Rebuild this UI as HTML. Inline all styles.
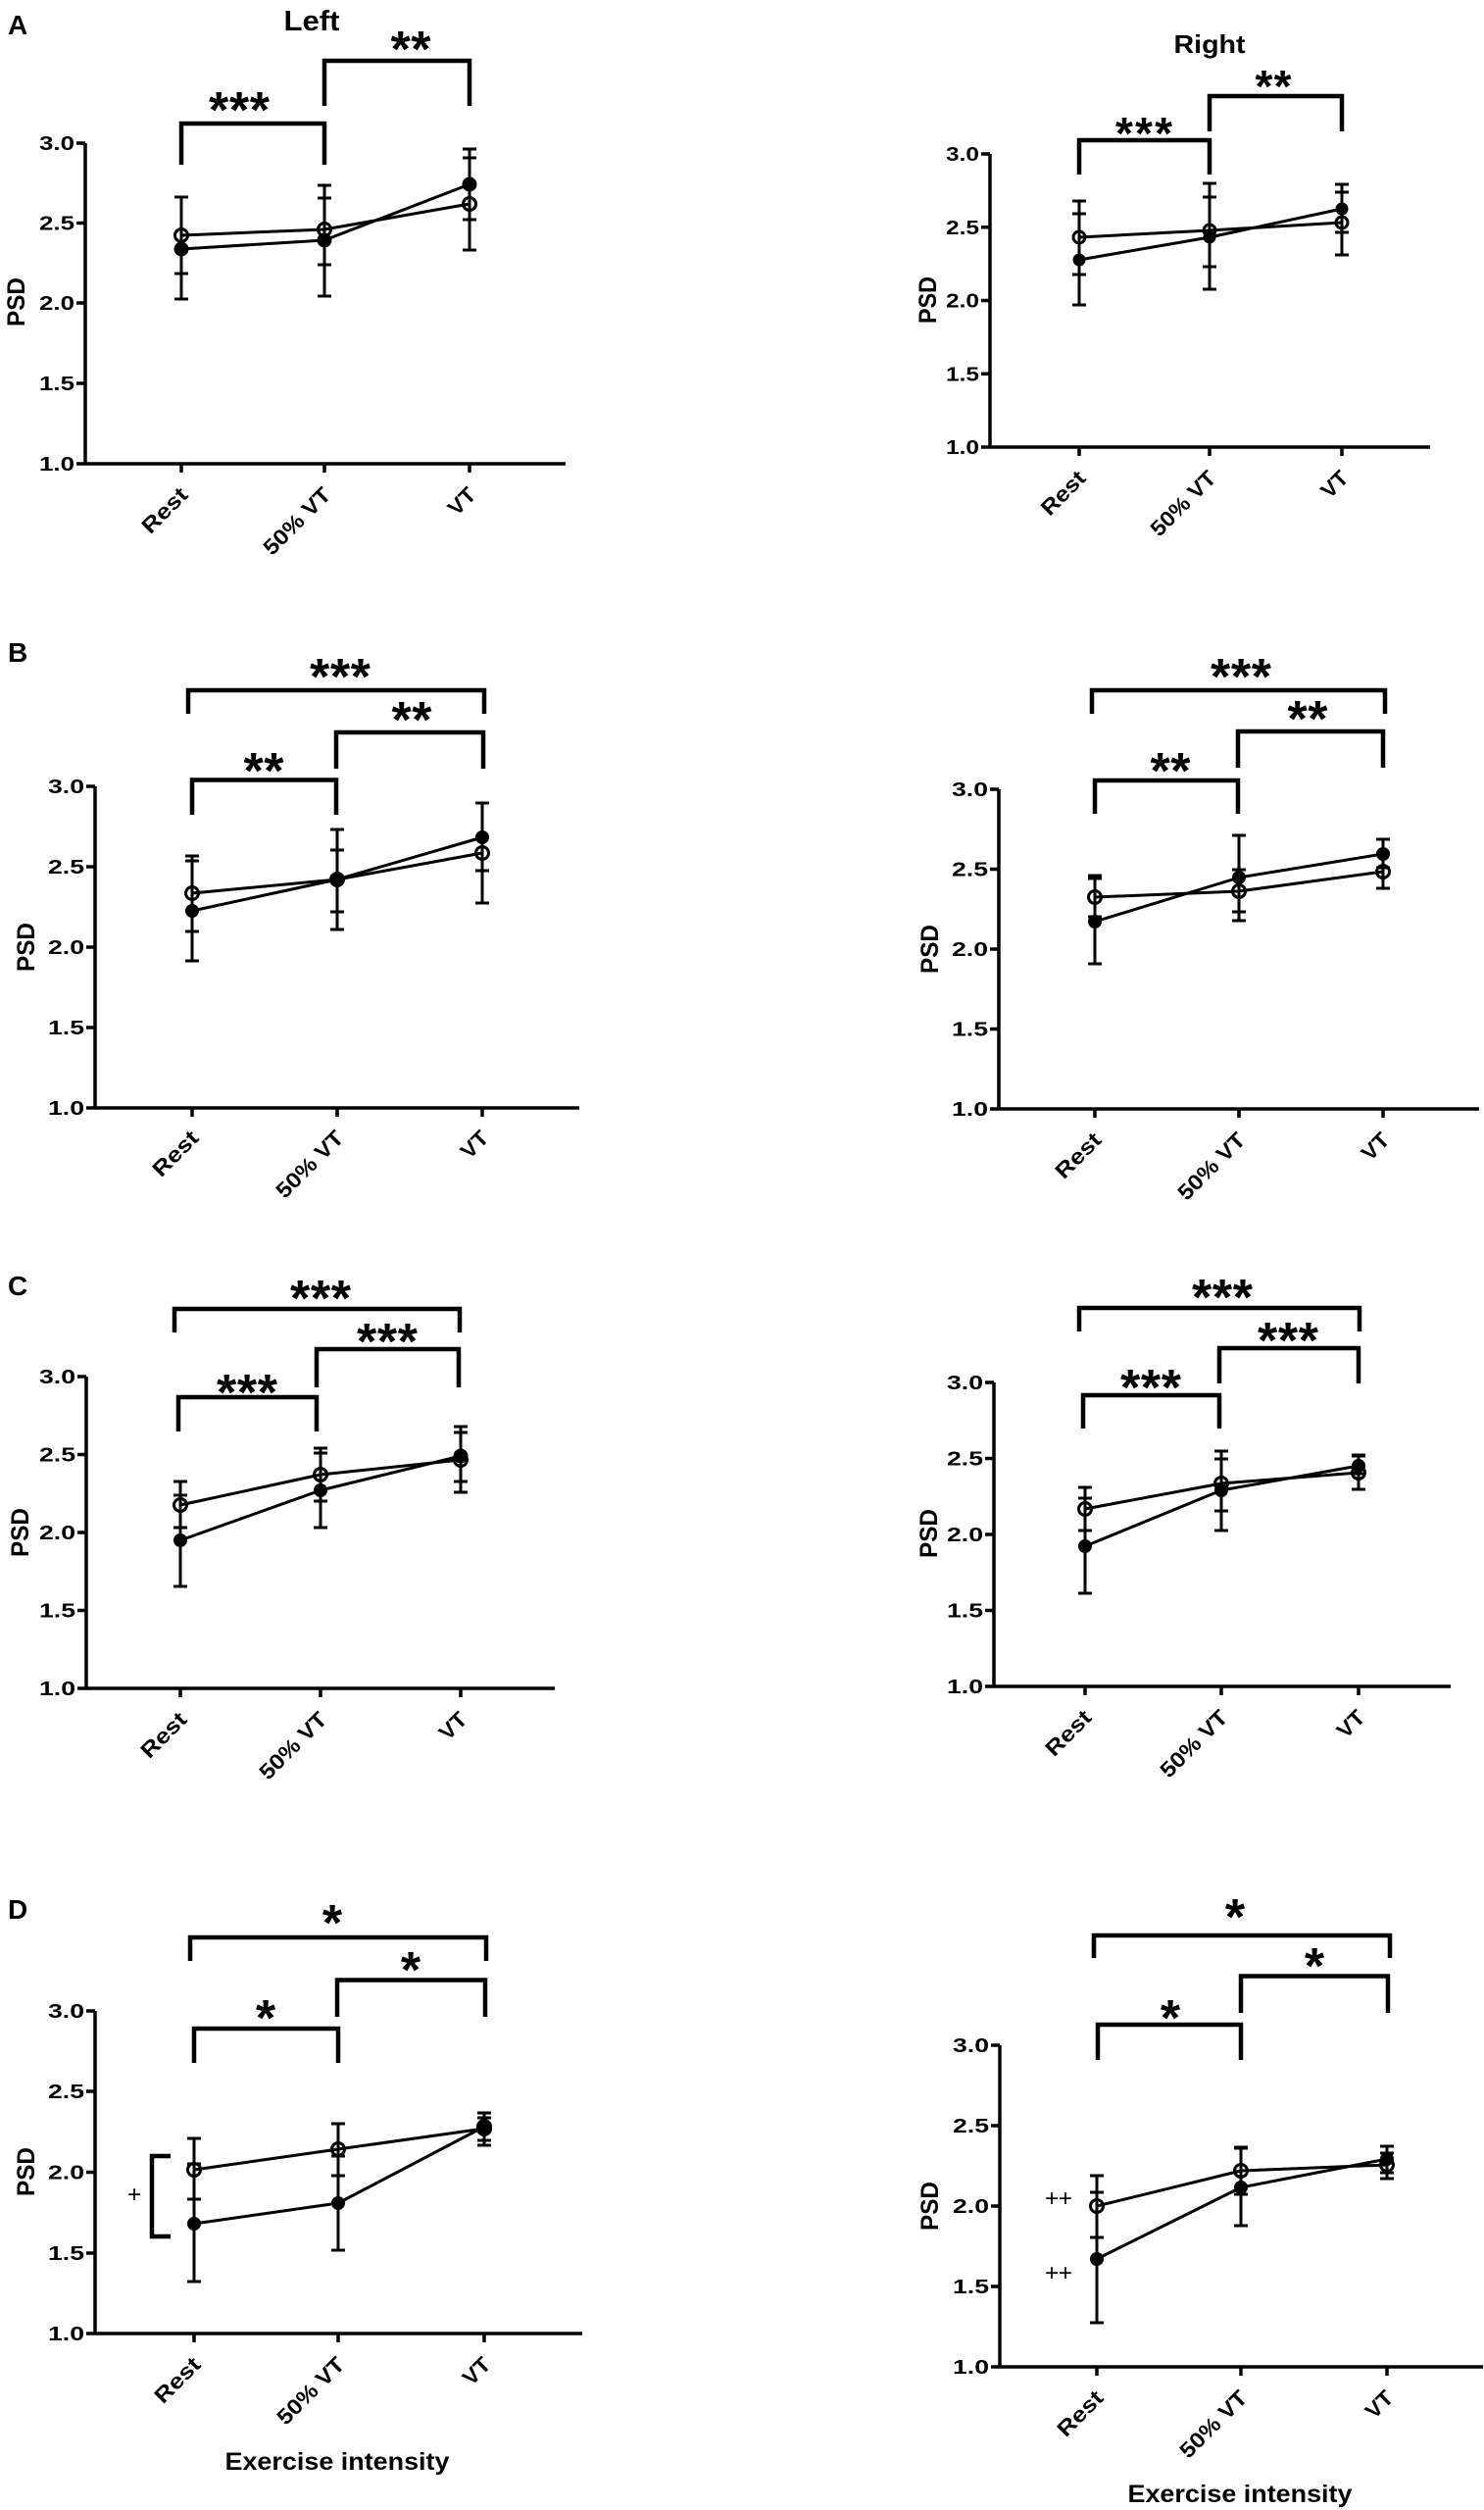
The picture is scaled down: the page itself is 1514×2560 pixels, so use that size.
<!DOCTYPE html>
<html><head><meta charset="utf-8"><style>
html,body{margin:0;padding:0;background:#fff;}
svg{display:block;}
text{font-family:"Liberation Sans",Arial,sans-serif;font-weight:bold;fill:#000;}
.ax{stroke:#000;stroke-width:3.5;fill:none;}
.br{stroke:#000;stroke-width:4.5;fill:none;}
.eb{stroke:#000;stroke-width:3;fill:none;}
.ln{stroke:#000;stroke-width:3;fill:none;stroke-linejoin:round;}
.op{stroke:#000;stroke-width:3;fill:none;}
.tl{font-size:20px;text-anchor:end;}
.xl{font-size:22px;text-anchor:end;}
.st{font-size:52px;text-anchor:middle;}
.st2{font-size:46px;text-anchor:middle;}
.yt{font-size:25px;text-anchor:middle;}
.pl{font-size:28px;}
.pm{font-weight:normal;font-size:24px;text-anchor:middle;}
</style></head><body>
<svg width="1514" height="2560" viewBox="0 0 1514 2560" xmlns="http://www.w3.org/2000/svg">
<rect width="1514" height="2560" fill="#fff"/>

<!-- ================= A LEFT ================= -->
<text class="pl" x="8" y="35">A</text>
<text x="318" y="31" font-size="29" text-anchor="middle" textLength="57" lengthAdjust="spacingAndGlyphs">Left</text>
<path class="ax" d="M87,146V473H577M78,146H87M78,227.5H87M78,309H87M78,391H87M78,473H87M185,473V482M331,473V482M479,473V482"/>
<text class="tl" x="76" y="153" textLength="36" lengthAdjust="spacingAndGlyphs">3.0</text>
<text class="tl" x="76" y="234.5" textLength="36" lengthAdjust="spacingAndGlyphs">2.5</text>
<text class="tl" x="76" y="316" textLength="36" lengthAdjust="spacingAndGlyphs">2.0</text>
<text class="tl" x="76" y="398" textLength="36" lengthAdjust="spacingAndGlyphs">1.5</text>
<text class="tl" x="76" y="480" textLength="36" lengthAdjust="spacingAndGlyphs">1.0</text>
<text class="xl" x="193" y="506" transform="rotate(-45 193 506)" textLength="56" lengthAdjust="spacingAndGlyphs">Rest</text>
<text class="xl" x="339" y="506" transform="rotate(-45 339 506)" textLength="87" lengthAdjust="spacingAndGlyphs">50% VT</text>
<text class="xl" x="487" y="506" transform="rotate(-45 487 506)" textLength="30" lengthAdjust="spacingAndGlyphs">VT</text>
<text class="yt" x="25" y="308" transform="rotate(-90 25 308)" textLength="50" lengthAdjust="spacingAndGlyphs">PSD</text>
<path class="br" d="M185,168V126H331V168M331,108V62H479V108"/>
<text class="st" x="244" y="130" textLength="62">***</text>
<text class="st" x="419" y="68" textLength="41">**</text>
<path class="eb" d="M185,201V279M178,201H192M178,279H192M331,202V270M324,202H338M324,270H338M479,161V255M472,161H486M472,255H486"/>
<path class="eb" d="M185,201V305M178,305H192M331,189V302M324,189H338M324,302H338M479,152V224M472,152H486M472,224H486"/>
<polyline class="ln" stroke-width="3.5" points="185,240 331,234 479,208"/>
<polyline class="ln" stroke-width="3.5" points="185,254 331,245 479,188"/>
<circle cx="185" cy="254" r="7.5"/><circle cx="331" cy="245" r="7.5"/><circle cx="479" cy="188" r="7.5"/>
<circle class="op" cx="185" cy="240" r="6.5"/><circle class="op" cx="331" cy="234" r="6.5"/><circle class="op" cx="479" cy="208" r="6.5"/>

<!-- ================= A RIGHT ================= -->
<text x="1234" y="54" font-size="26" text-anchor="middle" textLength="73" lengthAdjust="spacingAndGlyphs">Right</text>
<path class="ax" d="M1010,157V456H1459M1001,157H1010M1001,231.75H1010M1001,306.5H1010M1001,381.25H1010M1001,456H1010M1101,456V465M1234,456V465M1369,456V465"/>
<text class="tl" x="999" y="164" textLength="34" lengthAdjust="spacingAndGlyphs">3.0</text>
<text class="tl" x="999" y="238.75" textLength="34" lengthAdjust="spacingAndGlyphs">2.5</text>
<text class="tl" x="999" y="313.5" textLength="34" lengthAdjust="spacingAndGlyphs">2.0</text>
<text class="tl" x="999" y="388.25" textLength="34" lengthAdjust="spacingAndGlyphs">1.5</text>
<text class="tl" x="999" y="463" textLength="34" lengthAdjust="spacingAndGlyphs">1.0</text>
<text class="xl" x="1109" y="489" transform="rotate(-45 1109 489)" textLength="54" lengthAdjust="spacingAndGlyphs">Rest</text>
<text class="xl" x="1242" y="489" transform="rotate(-45 1242 489)" textLength="84" lengthAdjust="spacingAndGlyphs">50% VT</text>
<text class="xl" x="1377" y="489" transform="rotate(-45 1377 489)" textLength="29" lengthAdjust="spacingAndGlyphs">VT</text>
<text class="yt" x="955" y="306" transform="rotate(-90 955 306)" textLength="48" lengthAdjust="spacingAndGlyphs">PSD</text>
<path class="br" d="M1101,178V143H1234V178M1234,134V98H1369V134"/>
<text class="st2" x="1167" y="152" textLength="58">***</text>
<text class="st2" x="1299" y="104" textLength="37">**</text>
<path class="eb" d="M1101,205V280M1094,205H1108M1094,280H1108M1234,201V272M1227,201H1241M1227,272H1241M1369,196V260M1362,196H1376M1362,260H1376"/>
<path class="eb" d="M1101,218V311M1094,218H1108M1094,311H1108M1234,187V295M1227,187H1241M1227,295H1241M1369,188V237M1362,188H1376M1362,237H1376"/>
<polyline class="ln" points="1101,242 1234,235 1369,227"/>
<polyline class="ln" points="1101,265 1234,242 1369,213"/>
<circle cx="1101" cy="265" r="6.5"/><circle cx="1234" cy="242" r="6.5"/><circle cx="1369" cy="213" r="6.5"/>
<circle class="op" cx="1101" cy="242" r="6"/><circle class="op" cx="1234" cy="235" r="6"/><circle class="op" cx="1369" cy="227" r="6"/>

<!-- ================= B LEFT ================= -->
<text class="pl" x="8" y="675">B</text>
<path class="ax" d="M97,802V1130H591M88,802H97M88,884H97M88,966H97M88,1048H97M88,1130H97M196,1130V1139M344,1130V1139M492,1130V1139"/>
<text class="tl" x="86" y="809" textLength="37" lengthAdjust="spacingAndGlyphs">3.0</text>
<text class="tl" x="86" y="891" textLength="37" lengthAdjust="spacingAndGlyphs">2.5</text>
<text class="tl" x="86" y="973" textLength="37" lengthAdjust="spacingAndGlyphs">2.0</text>
<text class="tl" x="86" y="1055" textLength="37" lengthAdjust="spacingAndGlyphs">1.5</text>
<text class="tl" x="86" y="1137" textLength="37" lengthAdjust="spacingAndGlyphs">1.0</text>
<text class="xl" x="204" y="1162" transform="rotate(-45 204 1162)" textLength="56" lengthAdjust="spacingAndGlyphs">Rest</text>
<text class="xl" x="352" y="1162" transform="rotate(-45 352 1162)" textLength="87" lengthAdjust="spacingAndGlyphs">50% VT</text>
<text class="xl" x="500" y="1162" transform="rotate(-45 500 1162)" textLength="30" lengthAdjust="spacingAndGlyphs">VT</text>
<text class="yt" x="35" y="966" transform="rotate(-90 35 966)" textLength="50" lengthAdjust="spacingAndGlyphs">PSD</text>
<path class="br" d="M192,728V704H494V728M343,784V747H493V784M196,831V795.5H343V831"/>
<text class="st" x="347" y="708" textLength="62">***</text>
<text class="st" x="420" y="752" textLength="41">**</text>
<text class="st" x="269" y="804" textLength="41">**</text>
<path class="eb" d="M196,873V950M189,873H203M189,950H203M344,867V930M337,867H351M337,930H351M492,819V921M485,819H499M485,921H499"/>
<path class="eb" d="M196,878V980M189,878H203M189,980H203M344,846V948M337,846H351M337,948H351M492,819V888M485,888H499"/>
<polyline class="ln" points="196,911 344,897 492,870"/>
<polyline class="ln" points="196,929 344,897 492,854"/>
<circle cx="196" cy="929" r="7"/><circle cx="344" cy="897" r="7.5"/><circle cx="492" cy="854" r="7"/>
<circle class="op" cx="196" cy="911" r="6.5"/><circle class="op" cx="344" cy="897" r="6.5"/><circle class="op" cx="492" cy="870" r="6.5"/>

<!-- ================= B RIGHT ================= -->
<path class="ax" d="M1019,805V1131H1509M1010,805H1019M1010,886.5H1019M1010,968H1019M1010,1049.5H1019M1010,1131H1019M1117,1131V1140M1264,1131V1140M1411,1131V1140"/>
<text class="tl" x="1008" y="812" textLength="37" lengthAdjust="spacingAndGlyphs">3.0</text>
<text class="tl" x="1008" y="893.5" textLength="37" lengthAdjust="spacingAndGlyphs">2.5</text>
<text class="tl" x="1008" y="975" textLength="37" lengthAdjust="spacingAndGlyphs">2.0</text>
<text class="tl" x="1008" y="1056.5" textLength="37" lengthAdjust="spacingAndGlyphs">1.5</text>
<text class="tl" x="1008" y="1138" textLength="37" lengthAdjust="spacingAndGlyphs">1.0</text>
<text class="xl" x="1125" y="1164" transform="rotate(-45 1125 1164)" textLength="56" lengthAdjust="spacingAndGlyphs">Rest</text>
<text class="xl" x="1272" y="1164" transform="rotate(-45 1272 1164)" textLength="87" lengthAdjust="spacingAndGlyphs">50% VT</text>
<text class="xl" x="1419" y="1164" transform="rotate(-45 1419 1164)" textLength="30" lengthAdjust="spacingAndGlyphs">VT</text>
<text class="yt" x="957" y="968" transform="rotate(-90 957 968)" textLength="50" lengthAdjust="spacingAndGlyphs">PSD</text>
<path class="br" d="M1114,728V704H1413V728M1263,783V746H1411V783M1117,830V796H1263V830"/>
<text class="st" x="1266" y="708" textLength="62">***</text>
<text class="st" x="1334" y="751" textLength="41">**</text>
<text class="st" x="1194" y="804" textLength="41">**</text>
<path class="eb" d="M1117,893V935M1110,893H1124M1110,935H1124M1264,887V930M1257,887H1271M1257,930H1271M1411,870V906M1404,870H1418M1404,906H1418"/>
<path class="eb" d="M1117,896V983M1110,896H1124M1110,983H1124M1264,852V939M1257,852H1271M1257,939H1271M1411,856V885M1404,856H1418M1404,885H1418"/>
<polyline class="ln" points="1117,915 1264,909 1411,889"/>
<polyline class="ln" points="1117,940 1264,895 1411,871"/>
<circle cx="1117" cy="940" r="7"/><circle cx="1264" cy="895" r="7"/><circle cx="1411" cy="871" r="7"/>
<circle class="op" cx="1117" cy="915" r="6.5"/><circle class="op" cx="1264" cy="909" r="6.5"/><circle class="op" cx="1411" cy="889" r="6.5"/>

<!-- ================= C LEFT ================= -->
<text class="pl" x="8" y="1321">C</text>
<path class="ax" d="M88,1404V1722H566M79,1404H88M79,1483.5H88M79,1563H88M79,1642.5H88M79,1722H88M184,1722V1731M327,1722V1731M470,1722V1731"/>
<text class="tl" x="77" y="1411" textLength="37" lengthAdjust="spacingAndGlyphs">3.0</text>
<text class="tl" x="77" y="1490.5" textLength="37" lengthAdjust="spacingAndGlyphs">2.5</text>
<text class="tl" x="77" y="1570" textLength="37" lengthAdjust="spacingAndGlyphs">2.0</text>
<text class="tl" x="77" y="1649.5" textLength="37" lengthAdjust="spacingAndGlyphs">1.5</text>
<text class="tl" x="77" y="1729" textLength="37" lengthAdjust="spacingAndGlyphs">1.0</text>
<text class="xl" x="192" y="1755" transform="rotate(-45 192 1755)" textLength="56" lengthAdjust="spacingAndGlyphs">Rest</text>
<text class="xl" x="335" y="1755" transform="rotate(-45 335 1755)" textLength="87" lengthAdjust="spacingAndGlyphs">50% VT</text>
<text class="xl" x="478" y="1755" transform="rotate(-45 478 1755)" textLength="30" lengthAdjust="spacingAndGlyphs">VT</text>
<text class="yt" x="29" y="1563" transform="rotate(-90 29 1563)" textLength="50" lengthAdjust="spacingAndGlyphs">PSD</text>
<path class="br" d="M178,1359V1335H469V1359M323,1415V1376H468V1415M182,1460V1425H323V1460"/>
<text class="st" x="327" y="1342" textLength="62">***</text>
<text class="st" x="395" y="1386" textLength="62">***</text>
<text class="st" x="252" y="1438" textLength="62">***</text>
<path class="eb" d="M184,1511V1558M177,1511H191M177,1558H191M327,1482V1531M320,1482H334M320,1531H334M470,1455V1522M463,1455H477M463,1522H477"/>
<path class="eb" d="M184,1525V1618M177,1525H191M177,1618H191M327,1477V1558M320,1477H334M320,1558H334M470,1461V1511M463,1461H477M463,1511H477"/>
<polyline class="ln" points="184,1535 327,1504 470,1489"/>
<polyline class="ln" points="184,1571 327,1520 470,1485"/>
<circle cx="184" cy="1571" r="7"/><circle cx="327" cy="1520" r="7"/><circle cx="470" cy="1485" r="7.5"/>
<circle class="op" cx="184" cy="1535" r="6.5"/><circle class="op" cx="327" cy="1504" r="6.5"/><circle class="op" cx="470" cy="1489" r="6.5"/>

<!-- ================= C RIGHT ================= -->
<path class="ax" d="M1014,1410V1720H1480M1005,1410H1014M1005,1487.5H1014M1005,1565H1014M1005,1642.5H1014M1005,1720H1014M1107,1720V1729M1246,1720V1729M1386,1720V1729"/>
<text class="tl" x="1003" y="1417" textLength="37" lengthAdjust="spacingAndGlyphs">3.0</text>
<text class="tl" x="1003" y="1494.5" textLength="37" lengthAdjust="spacingAndGlyphs">2.5</text>
<text class="tl" x="1003" y="1572" textLength="37" lengthAdjust="spacingAndGlyphs">2.0</text>
<text class="tl" x="1003" y="1649.5" textLength="37" lengthAdjust="spacingAndGlyphs">1.5</text>
<text class="tl" x="1003" y="1727" textLength="37" lengthAdjust="spacingAndGlyphs">1.0</text>
<text class="xl" x="1115" y="1753" transform="rotate(-45 1115 1753)" textLength="56" lengthAdjust="spacingAndGlyphs">Rest</text>
<text class="xl" x="1254" y="1753" transform="rotate(-45 1254 1753)" textLength="87" lengthAdjust="spacingAndGlyphs">50% VT</text>
<text class="xl" x="1394" y="1753" transform="rotate(-45 1394 1753)" textLength="30" lengthAdjust="spacingAndGlyphs">VT</text>
<text class="yt" x="956" y="1564" transform="rotate(-90 956 1564)" textLength="50" lengthAdjust="spacingAndGlyphs">PSD</text>
<path class="br" d="M1101,1358V1334H1387V1358M1244,1411V1375H1386V1411M1105,1457V1423H1244V1457"/>
<text class="st" x="1247" y="1341" textLength="62">***</text>
<text class="st" x="1314" y="1385" textLength="62">***</text>
<text class="st" x="1174" y="1433" textLength="62">***</text>
<path class="eb" d="M1107,1517V1561M1100,1517H1114M1100,1561H1114M1246,1488V1541M1239,1488H1253M1239,1541H1253M1386,1485V1519M1379,1485H1393M1379,1519H1393"/>
<path class="eb" d="M1107,1528V1625M1100,1528H1114M1100,1625H1114M1246,1480V1561M1239,1480H1253M1239,1561H1253M1386,1484V1503M1379,1484H1393M1379,1503H1393"/>
<polyline class="ln" points="1107,1539 1246,1513 1386,1502"/>
<polyline class="ln" points="1107,1577 1246,1520 1386,1495"/>
<circle cx="1107" cy="1577" r="7"/><circle cx="1246" cy="1520" r="7"/><circle cx="1386" cy="1495" r="7"/>
<circle class="op" cx="1107" cy="1539" r="6.5"/><circle class="op" cx="1246" cy="1513" r="6.5"/><circle class="op" cx="1386" cy="1502" r="6.5"/>

<!-- ================= D LEFT ================= -->
<text class="pl" x="8" y="1957">D</text>
<path class="ax" d="M97,2051V2380H594M88,2051H97M88,2133H97M88,2215.5H97M88,2298H97M88,2380H97M198,2380V2389M345,2380V2389M494,2380V2389"/>
<text class="tl" x="86" y="2058" textLength="37" lengthAdjust="spacingAndGlyphs">3.0</text>
<text class="tl" x="86" y="2140" textLength="37" lengthAdjust="spacingAndGlyphs">2.5</text>
<text class="tl" x="86" y="2222.5" textLength="37" lengthAdjust="spacingAndGlyphs">2.0</text>
<text class="tl" x="86" y="2305" textLength="37" lengthAdjust="spacingAndGlyphs">1.5</text>
<text class="tl" x="86" y="2387" textLength="37" lengthAdjust="spacingAndGlyphs">1.0</text>
<text class="xl" x="206" y="2413" transform="rotate(-45 206 2413)" textLength="56" lengthAdjust="spacingAndGlyphs">Rest</text>
<text class="xl" x="353" y="2413" transform="rotate(-45 353 2413)" textLength="87" lengthAdjust="spacingAndGlyphs">50% VT</text>
<text class="xl" x="502" y="2413" transform="rotate(-45 502 2413)" textLength="30" lengthAdjust="spacingAndGlyphs">VT</text>
<text class="yt" x="35" y="2215" transform="rotate(-90 35 2215)" textLength="50" lengthAdjust="spacingAndGlyphs">PSD</text>
<text x="344" y="2519" font-size="25" text-anchor="middle" textLength="229" lengthAdjust="spacingAndGlyphs">Exercise intensity</text>
<path class="br" d="M194,2000V1976H496V2000M344,2057V2019.5H495V2057M198,2104V2069H345V2104"/>
<text class="st" x="339" y="1979">*</text>
<text class="st" x="419" y="2027">*</text>
<text class="st" x="271" y="2076">*</text>
<path class="br" stroke-width="4" d="M174,2199H155V2281H174"/>
<text class="pm" x="137" y="2246">+</text>
<path class="eb" d="M198,2181V2243M191,2181H205M191,2243H205M345,2166V2219M338,2166H352M338,2219H352M494,2160V2183M487,2160H501M487,2183H501"/>
<path class="eb" d="M198,2207V2327M191,2207H205M191,2327H205M345,2199V2295M338,2199H352M338,2295H352M494,2155V2188M487,2155H501M487,2188H501"/>
<polyline class="ln" points="198,2213 345,2192 494,2171"/>
<polyline class="ln" points="198,2268 345,2247 494,2169"/>
<circle cx="198" cy="2268" r="7"/><circle cx="345" cy="2247" r="7"/><circle cx="494" cy="2169" r="8"/>
<circle class="op" cx="198" cy="2213" r="6.5"/><circle class="op" cx="345" cy="2192" r="6.5"/><circle class="op" cx="494" cy="2171" r="6.5"/>

<!-- ================= D RIGHT ================= -->
<path class="ax" d="M1020,2086V2414H1513M1011,2086H1020M1011,2168H1020M1011,2250H1020M1011,2332H1020M1011,2414H1020M1119,2414V2423M1266,2414V2423M1415,2414V2423"/>
<text class="tl" x="1009" y="2093" textLength="37" lengthAdjust="spacingAndGlyphs">3.0</text>
<text class="tl" x="1009" y="2175" textLength="37" lengthAdjust="spacingAndGlyphs">2.5</text>
<text class="tl" x="1009" y="2257" textLength="37" lengthAdjust="spacingAndGlyphs">2.0</text>
<text class="tl" x="1009" y="2339" textLength="37" lengthAdjust="spacingAndGlyphs">1.5</text>
<text class="tl" x="1009" y="2421" textLength="37" lengthAdjust="spacingAndGlyphs">1.0</text>
<text class="xl" x="1127" y="2447" transform="rotate(-45 1127 2447)" textLength="56" lengthAdjust="spacingAndGlyphs">Rest</text>
<text class="xl" x="1274" y="2447" transform="rotate(-45 1274 2447)" textLength="87" lengthAdjust="spacingAndGlyphs">50% VT</text>
<text class="xl" x="1423" y="2447" transform="rotate(-45 1423 2447)" textLength="30" lengthAdjust="spacingAndGlyphs">VT</text>
<text class="yt" x="957" y="2250" transform="rotate(-90 957 2250)" textLength="50" lengthAdjust="spacingAndGlyphs">PSD</text>
<text x="1265" y="2552" font-size="25" text-anchor="middle" textLength="229" lengthAdjust="spacingAndGlyphs">Exercise intensity</text>
<path class="br" d="M1116,1997V1974H1418V1997M1266,2053V2015.5H1416V2053M1120,2101V2065H1266V2101"/>
<text class="st" x="1260" y="1973">*</text>
<text class="st" x="1341" y="2023">*</text>
<text class="st" x="1194" y="2076">*</text>
<text class="pm" x="1080" y="2250">++</text>
<text class="pm" x="1080" y="2326">++</text>
<path class="eb" d="M1119,2219V2282M1112,2219H1126M1112,2282H1126M1266,2190V2238M1259,2190H1273M1259,2238H1273M1415,2196V2222M1408,2196H1422M1408,2222H1422"/>
<path class="eb" d="M1119,2236V2369M1112,2236H1126M1112,2369H1126M1266,2191V2270M1259,2191H1273M1259,2270H1273M1415,2189V2216M1408,2189H1422M1408,2216H1422"/>
<polyline class="ln" points="1119,2250 1266,2214 1415,2208"/>
<polyline class="ln" points="1119,2304 1266,2231 1415,2202"/>
<circle cx="1119" cy="2304" r="7"/><circle cx="1266" cy="2231" r="7"/><circle cx="1415" cy="2202" r="7"/>
<circle class="op" cx="1119" cy="2250" r="6.5"/><circle class="op" cx="1266" cy="2214" r="6.5"/><circle class="op" cx="1415" cy="2208" r="6.5"/>
</svg>
</body></html>
